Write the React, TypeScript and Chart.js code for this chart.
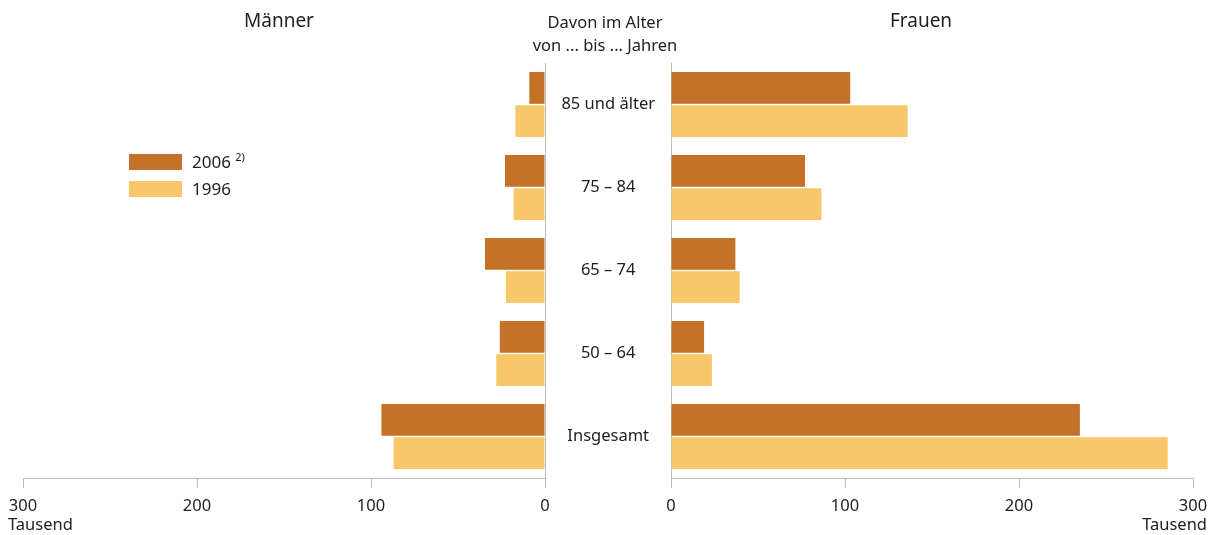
import React, { useEffect, useRef } from "react";
import { Chart, registerables } from "chart.js";

Chart.register(...registerables);

const categories = ["85 und älter", "75 – 84", "65 – 74", "50 – 64", "Insgesamt"];
const maenner2006 = [9, 23, 34.5, 26, 94];
const maenner1996 = [17, 18, 22.5, 28, 87];
const frauen2006 = [103, 77, 37, 19, 235];
const frauen1996 = [136, 86.5, 39.5, 23.5, 285.5];
const xTicks = [0, 100, 200, 300];
const seriesLabels = ["2006", "1996"];

const C2006 = "#C57229";
const C1996 = "#F7C76A";
const AXIS = "#BDBDBD";
const TEXT = "#222222";
const FONT = "'Noto Sans', sans-serif";

function makeXScale(reverse: boolean) {
  return {
    type: "linear" as const,
    min: 0,
    max: 300,
    reverse,
    afterBuildTicks: (s: any) => {
      s.ticks = xTicks.map((v) => ({ value: v }));
    },
    afterFit: (s: any) => {
      s.height = 57;
    },
    grid: { display: true, drawOnChartArea: false, drawTicks: true, tickLength: 10, color: AXIS, lineWidth: 1 },
    border: { display: true, color: AXIS, width: 1 },
    ticks: { color: TEXT, font: { family: FONT, size: 16.5 }, padding: 8, maxRotation: 0 },
  };
}

function makeDatasets(a: number[], b: number[]) {
  return [
    { label: seriesLabels[0], data: a, backgroundColor: C2006, categoryPercentage: 0.8, barPercentage: 0.96 },
    { label: seriesLabels[1], data: b, backgroundColor: C1996, categoryPercentage: 0.8, barPercentage: 0.96 },
  ];
}

export default function App() {
  const leftRef = useRef<HTMLCanvasElement>(null);
  const rightRef = useRef<HTMLCanvasElement>(null);

  useEffect(() => {
    const common = {
      indexAxis: "y" as const,
      responsive: false,
      animation: false as const,
      devicePixelRatio: 1,
      plugins: { legend: { display: false }, tooltip: { enabled: false }, title: { display: false } },
    };
    const left = new Chart(leftRef.current!, {
      type: "bar",
      data: { labels: categories, datasets: makeDatasets(maenner2006, maenner1996) },
      options: {
        ...common,
        layout: { padding: { left: 23, top: 63, right: 0, bottom: 0 } },
        scales: {
          x: makeXScale(true),
          y: {
            position: "right",
            afterFit: (s: any) => {
              s.width = 15;
            },
            grid: { display: false },
            border: { display: true, color: AXIS, width: 1 },
            ticks: { display: false },
          },
        },
      } as any,
    });
    const right = new Chart(rightRef.current!, {
      type: "bar",
      data: { labels: categories, datasets: makeDatasets(frauen2006, frauen1996) },
      options: {
        ...common,
        layout: { padding: { left: 0, top: 63, right: 25, bottom: 0 } },
        scales: {
          x: makeXScale(false),
          y: {
            position: "left",
            afterFit: (s: any) => {
              s.width = 126;
            },
            grid: { display: false, drawTicks: false },
            border: { display: true, color: AXIS, width: 1 },
            ticks: { color: TEXT, font: { family: FONT, size: 16.5 }, crossAlign: "center", padding: 16 },
          },
        },
      } as any,
    });
    return () => {
      left.destroy();
      right.destroy();
    };
  }, []);

  const abs = (s: React.CSSProperties): React.CSSProperties => ({ position: "absolute", ...s });

  return (
    <div style={{ position: "absolute", left: 0, top: 0, width: 1218, height: 535, fontFamily: FONT, color: TEXT, background: "#fff" }}>
      <canvas ref={leftRef} width={560} height={535} style={abs({ left: 0, top: 0, width: 560, height: 535 })} />
      <canvas ref={rightRef} width={673} height={535} style={abs({ left: 545, top: 0, width: 673, height: 535 })} />
      <div style={abs({ left: 179, top: 8, width: 200, textAlign: "center", fontSize: 19, lineHeight: "24px" })}>Männer</div>
      <div style={abs({ left: 821, top: 8, width: 200, textAlign: "center", fontSize: 19, lineHeight: "24px" })}>Frauen</div>
      <div style={abs({ left: 505, top: 10, width: 200, textAlign: "center", fontSize: 16.5, lineHeight: "23px" })}>
        Davon im Alter
        <br />
        von ... bis ... Jahren
      </div>
      <div style={abs({ left: 129, top: 154, width: 53, height: 16, background: C2006 })} />
      <div style={abs({ left: 129, top: 181, width: 53, height: 16, background: C1996 })} />
      <div style={abs({ left: 192, top: 151, height: 22, fontSize: 17, lineHeight: "22px", whiteSpace: "nowrap" })}>
        {seriesLabels[0]}{" "}
        <span style={{ fontSize: 11, lineHeight: 0, position: "relative", top: -7 }}>2)</span>
      </div>
      <div style={abs({ left: 192, top: 178, fontSize: 17, lineHeight: "22px" })}>{seriesLabels[1]}</div>
      <div style={abs({ left: 8, top: 514, fontSize: 16.5, lineHeight: "20px" })}>Tausend</div>
      <div style={abs({ right: 11, top: 514, fontSize: 16.5, lineHeight: "20px", textAlign: "right" })}>Tausend</div>
    </div>
  );
}
